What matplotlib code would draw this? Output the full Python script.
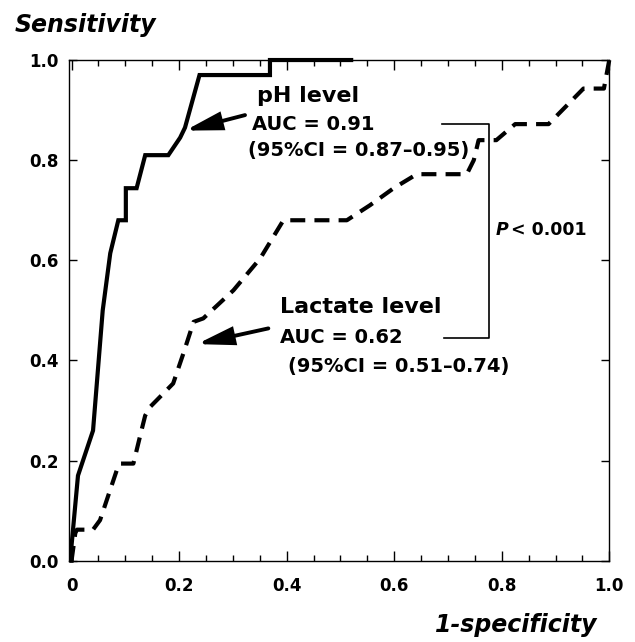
import matplotlib
matplotlib.use("Agg")
import matplotlib.pyplot as plt
from matplotlib.ticker import MultipleLocator, FixedLocator

plt.rcParams['font.family'] = ['DejaVu Sans']

# ROC curve for pH level (solid)
ph_fpr = [0.0, 0.0, 0.003, 0.012, 0.04, 0.058, 0.072, 0.087, 0.101, 0.101, 0.121,
          0.137, 0.18, 0.202, 0.211, 0.238, 0.369, 0.369, 0.52]
ph_tpr = [0.0, 0.03, 0.065, 0.17, 0.26, 0.50, 0.614, 0.68, 0.68, 0.744, 0.744,
          0.81, 0.81, 0.845, 0.865, 0.97, 0.97, 1.0, 1.0]

# ROC curve for lactate level (dashed)
lac_fpr = [0.0, 0.007, 0.01, 0.04, 0.053, 0.087, 0.09, 0.115, 0.13, 0.137, 0.146,
           0.168, 0.189, 0.208, 0.227, 0.245, 0.301, 0.351, 0.394, 0.512, 0.555,
           0.599, 0.642, 0.735, 0.748, 0.757, 0.79, 0.825, 0.887, 0.952, 0.99, 1.0]
lac_tpr = [0.0, 0.055, 0.062, 0.062, 0.081, 0.19, 0.194, 0.194, 0.26, 0.29, 0.307,
           0.331, 0.354, 0.414, 0.477, 0.484, 0.54, 0.604, 0.68, 0.68, 0.71,
           0.744, 0.772, 0.772, 0.80, 0.84, 0.84, 0.872, 0.872, 0.943, 0.943, 1.0]

x_ticks = [0, 0.2, 0.4, 0.6, 0.8, 1.0]
x_ticklabels = ["0", "0.2", "0.4", "0.6", "0.8", "1.0"]
y_ticks = [0, 0.2, 0.4, 0.6, 0.8, 1.0]
y_ticklabels = ["0.0", "0.2", "0.4", "0.6", "0.8", "1.0"]

ph_label = ["pH level", "AUC = 0.91", "(95%CI = 0.87\u20130.95)"]
lac_label = ["Lactate level", "AUC = 0.62", "(95%CI = 0.51\u20130.74)"]
p_text = ("P", "< 0.001")

fig = plt.figure(figsize=(6.35, 6.42), dpi=100)
ax = fig.add_axes([0.1079, 0.1266, 0.9595 - 0.1079, 0.9065 - 0.1266])

ax.plot(ph_fpr, ph_tpr, color='black', lw=3.0, solid_joinstyle='miter', clip_on=False)
ax.plot(lac_fpr, lac_tpr, color='black', lw=3.0, linestyle=(0, (3.6, 2.2)),
        dash_capstyle='butt', clip_on=False)

ax.set_xlim(-0.0056, 1.0)
ax.set_ylim(0, 1.0)

for s in ax.spines.values():
    s.set_linewidth(1.0)

ax.xaxis.set_major_locator(FixedLocator(x_ticks))
ax.set_xticklabels(x_ticklabels)
ax.xaxis.set_minor_locator(MultipleLocator(0.05))
ax.yaxis.set_major_locator(FixedLocator(y_ticks))
ax.set_yticklabels(y_ticklabels)
ax.tick_params(axis='both', which='both', direction='in', top=True, right=True, width=1.0)
ax.tick_params(axis='x', which='major', length=7, pad=12)
ax.tick_params(axis='x', which='minor', length=4)
ax.tick_params(axis='y', which='major', length=6, pad=7)
for lab in ax.get_xticklabels() + ax.get_yticklabels():
    lab.set_fontsize(12)
    lab.set_fontweight('bold')

# axis titles
fig.text(0.0236, 0.9506, "Sensitivity", fontsize=17, fontweight='bold', style='italic',
         ha='left', va='baseline')
fig.text(0.685, 0.0156, "1-specificity", fontsize=17, fontweight='bold', style='italic',
         ha='left', va='baseline')

# annotations
ax.text(0.344, 0.9155, ph_label[0], fontsize=16, fontweight='bold', ha='left', va='baseline')
ax.text(0.335, 0.860, ph_label[1], fontsize=14, fontweight='bold', ha='left', va='baseline')
ax.text(0.328, 0.808, ph_label[2], fontsize=14, fontweight='bold', ha='left', va='baseline')

ax.text(0.388, 0.494, lac_label[0], fontsize=16, fontweight='bold', ha='left', va='baseline')
ax.text(0.388, 0.434, lac_label[1], fontsize=14, fontweight='bold', ha='left', va='baseline')
ax.text(0.403, 0.377, lac_label[2], fontsize=14, fontweight='bold', ha='left', va='baseline')

arrow_kw = dict(arrowstyle='-|>,head_length=1.05,head_width=0.26', lw=2.8, color='black',
                shrinkA=0, shrinkB=0, mutation_scale=20, joinstyle='miter')
ax.annotate("", xy=(0.211, 0.859), xytext=(0.3226, 0.890), arrowprops=arrow_kw)
ax.annotate("", xy=(0.233, 0.4326), xytext=(0.366, 0.464), arrowprops=arrow_kw)

# bracket
ax.plot([0.689, 0.776, 0.776, 0.692], [0.8715, 0.8715, 0.444, 0.444], color='black', lw=1.2)

tp = ax.text(0.789, 0.660, p_text[0], fontsize=12.5, fontweight='bold', style='italic',
             ha='left', va='center')
ax.annotate(p_text[1], xy=(1, 0.5), xycoords=tp, xytext=(2, 0), textcoords='offset points',
            fontsize=12.5, fontweight='bold', ha='left', va='center')

fig.savefig("out.png", dpi=100)
